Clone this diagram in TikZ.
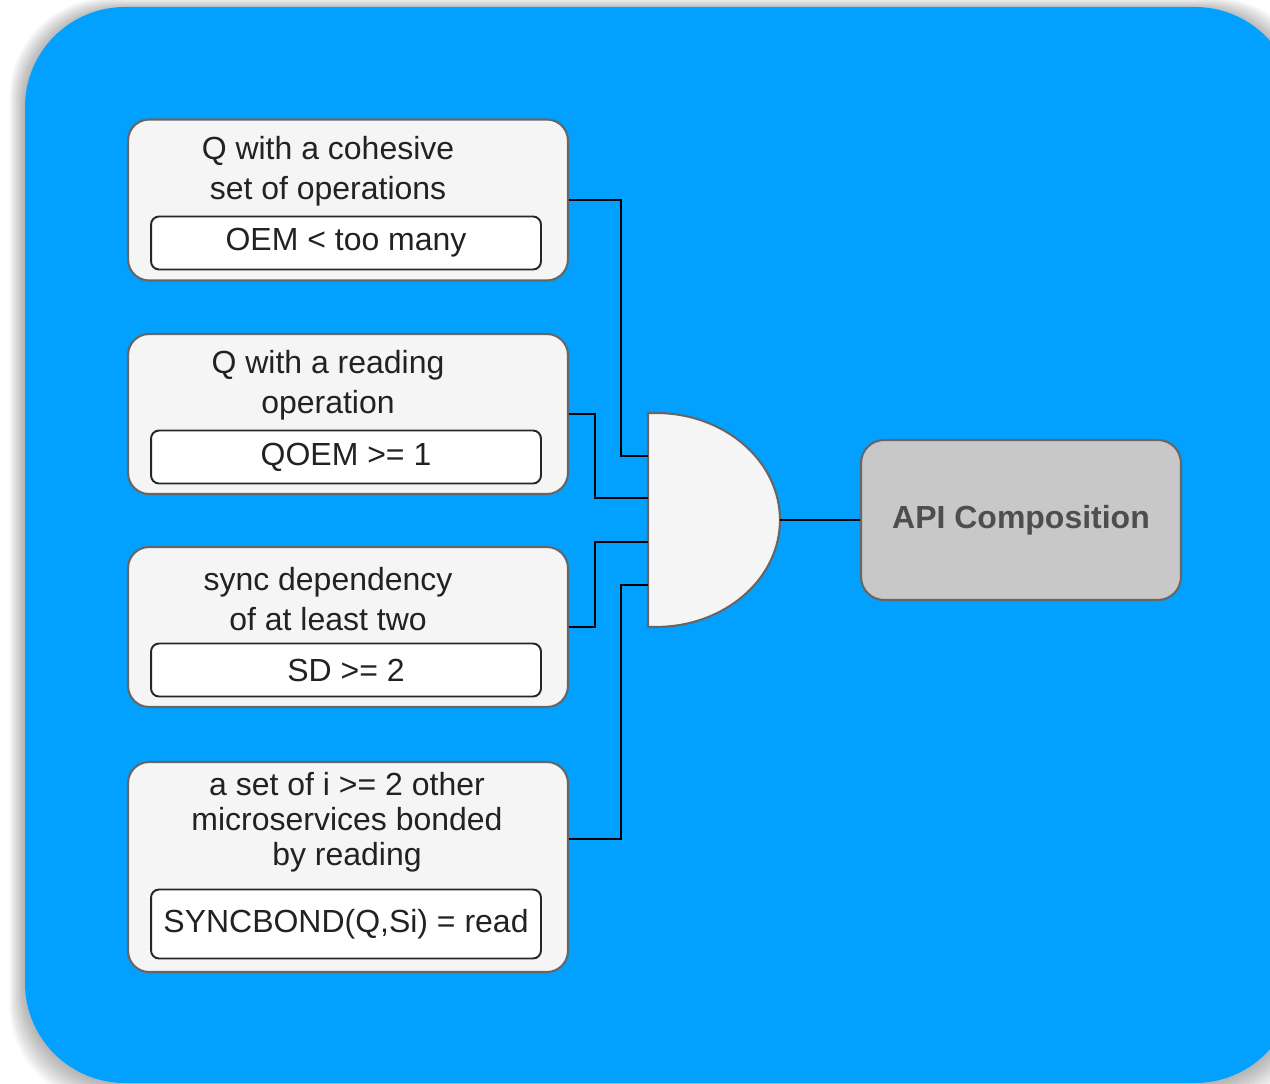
\documentclass[tikz,border=0pt]{standalone}
\usepackage{fontspec}
\setmainfont{Liberation Sans}
\definecolor{panelblue}{RGB}{2,160,255}
\definecolor{boxfill}{HTML}{F5F5F5}
\definecolor{boxline}{HTML}{666666}
\definecolor{apifill}{HTML}{C8C8C8}
\definecolor{textdark}{HTML}{222222}
\begin{document}
\begin{tikzpicture}[x=0.02cm,y=-0.02cm,
  every node/.style={font=\fontsize{18.2}{22.7}\selectfont, text=textdark},
  outerbox/.style={draw=boxline, fill=boxfill, line width=1.2pt, rounded corners=0.42cm,
    minimum width=8.8cm, inner sep=0pt},
  innerbox/.style={draw=black!85, fill=white, line width=1.1pt, rounded corners=0.16cm,
    minimum width=7.8cm, inner sep=0pt},
  label/.style={align=center, inner sep=0pt},
  wire/.style={draw=black, line width=1.3pt}]
\useasboundingbox (0,0) rectangle (1270,1084);
\clip (0,0) rectangle (1270,1084);

% soft shadow under the panel
\foreach \i in {1,...,12}
  \fill[black, opacity=0.028, rounded corners=2cm]
    (25-\i*1.3, 10-\i*1.0) rectangle (1295+\i*1.6, 1083+\i*1.8);

% blue panel
\fill[panelblue, rounded corners=2cm] (25,7) rectangle (1295,1083);

% condition boxes
\node[outerbox, minimum height=3.22cm] (b1) at (348,200) {};
\node[label] (t1) at (328,171) {Q with a cohesive\\set of operations};
\node[innerbox, minimum height=1.06cm] (c1) at (346,243) {OEM < too many};

\node[outerbox, minimum height=3.2cm] (b2) at (348,414) {};
\node[label] (t2) at (328,385) {Q with a reading\\operation};
\node[innerbox, minimum height=1.06cm] (c2) at (346,457) {QOEM >= 1};

\node[outerbox, minimum height=3.2cm] (b3) at (348,627) {};
\node[label] (t3) at (328,599) {sync dependency\\of at least two};
\node[innerbox, minimum height=1.06cm] (c3) at (346,670) {SD >= 2};

\node[outerbox, minimum height=4.2cm] (b4) at (348,867) {};
\node[label, font=\fontsize{18.2}{19.8}\selectfont] (t4) at (347,822) {a set of i >= 2 other\\microservices bonded\\by reading};
\node[innerbox, minimum height=1.38cm] (c4) at (346,924) {SYNCBOND(Q,Si) = read};

% AND gate
\coordinate (gtop) at (648,413);
\coordinate (gbot) at (648,627);
\fill[boxfill, draw=boxline, line width=1.2pt]
  (gtop) -- (656,413) arc[start angle=90, end angle=-90, x radius=2.48cm, y radius=2.14cm]
  -- (gbot) -- cycle;
\coordinate (g1) at (648,456);
\coordinate (g2) at (648,498);
\coordinate (g3) at (648,542);
\coordinate (g4) at (648,585);
\coordinate (gout) at (780,520);

% result box
\node[draw=boxline, fill=apifill, line width=1.2pt, rounded corners=0.46cm,
  minimum width=6.4cm, minimum height=3.2cm, font=\fontsize{18.2}{22.7}\selectfont\bfseries,
  text=textdark!80] (api) at (1021,520) {API Composition};

% wires
\coordinate (b4out) at ([yshift=0.56cm]b4.east);
\draw[wire] (b1.east) -| (621,456) -- (g1);
\draw[wire] (b2.east) -| (595,498) -- (g2);
\draw[wire] (b3.east) -| (595,542) -- (g3);
\draw[wire] (b4out) -| (621,585) -- (g4);
\draw[wire] (gout) -- (api.west);
\end{tikzpicture}
\end{document}
